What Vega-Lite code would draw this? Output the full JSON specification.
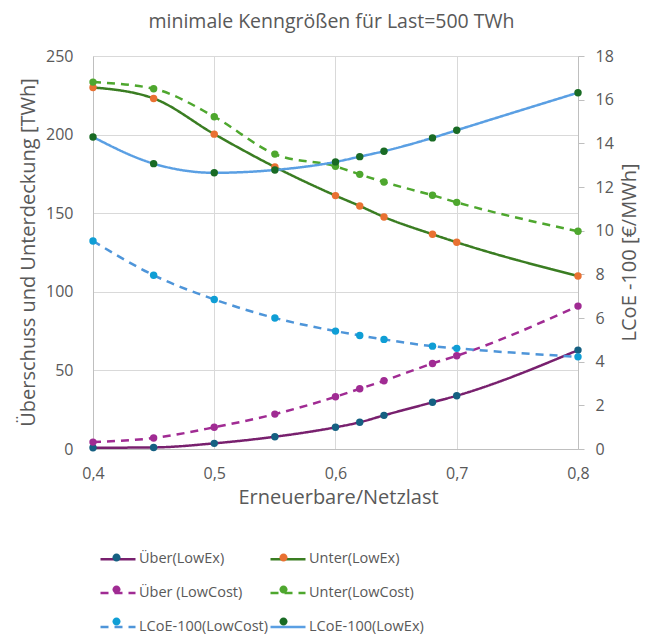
{
  "$schema": "https://vega.github.io/schema/vega-lite/v6.json",
  "width": 485,
  "height": 393,
  "autosize": "none",
  "padding": {"left": 93, "top": 56, "right": 72, "bottom": 188},
  "background": "white",
  "title": {
    "text": "minimale Kenngrößen für Last=500 TWh",
    "font": "Open Sans",
    "fontSize": 19.5,
    "fontWeight": "normal",
    "color": "#595959",
    "anchor": "middle",
    "frame": "group",
    "baseline": "alphabetic",
    "offset": 1,
    "dx": -4
  },
  "datasets": {
    "twh": [
      {"x": 0.4, "series": "Über(LowEx)", "v": 0.8},
      {"x": 0.45, "series": "Über(LowEx)", "v": 1.0},
      {"x": 0.5, "series": "Über(LowEx)", "v": 3.6},
      {"x": 0.55, "series": "Über(LowEx)", "v": 7.8},
      {"x": 0.6, "series": "Über(LowEx)", "v": 13.8},
      {"x": 0.62, "series": "Über(LowEx)", "v": 17.0},
      {"x": 0.64, "series": "Über(LowEx)", "v": 21.4},
      {"x": 0.68, "series": "Über(LowEx)", "v": 29.7},
      {"x": 0.7, "series": "Über(LowEx)", "v": 33.9},
      {"x": 0.8, "series": "Über(LowEx)", "v": 62.9},
      {"x": 0.4, "series": "Unter(LowEx)", "v": 230},
      {"x": 0.45, "series": "Unter(LowEx)", "v": 223},
      {"x": 0.5, "series": "Unter(LowEx)", "v": 200.3},
      {"x": 0.55, "series": "Unter(LowEx)", "v": 179.4},
      {"x": 0.6, "series": "Unter(LowEx)", "v": 161.2},
      {"x": 0.62, "series": "Unter(LowEx)", "v": 154.6},
      {"x": 0.64, "series": "Unter(LowEx)", "v": 147.6},
      {"x": 0.68, "series": "Unter(LowEx)", "v": 136.6},
      {"x": 0.7, "series": "Unter(LowEx)", "v": 131.5},
      {"x": 0.8, "series": "Unter(LowEx)", "v": 110},
      {"x": 0.4, "series": "Über (LowCost)", "v": 4.4},
      {"x": 0.45, "series": "Über (LowCost)", "v": 7.0},
      {"x": 0.5, "series": "Über (LowCost)", "v": 13.8},
      {"x": 0.55, "series": "Über (LowCost)", "v": 22.2},
      {"x": 0.6, "series": "Über (LowCost)", "v": 33.2},
      {"x": 0.62, "series": "Über (LowCost)", "v": 38.3},
      {"x": 0.64, "series": "Über (LowCost)", "v": 43.4},
      {"x": 0.68, "series": "Über (LowCost)", "v": 54.4},
      {"x": 0.7, "series": "Über (LowCost)", "v": 59.3},
      {"x": 0.8, "series": "Über (LowCost)", "v": 90.9},
      {"x": 0.4, "series": "Unter(LowCost)", "v": 233.4},
      {"x": 0.45, "series": "Unter(LowCost)", "v": 229.2},
      {"x": 0.5, "series": "Unter(LowCost)", "v": 211.4},
      {"x": 0.55, "series": "Unter(LowCost)", "v": 187.6},
      {"x": 0.6, "series": "Unter(LowCost)", "v": 179.8},
      {"x": 0.62, "series": "Unter(LowCost)", "v": 174.7},
      {"x": 0.64, "series": "Unter(LowCost)", "v": 169.8},
      {"x": 0.68, "series": "Unter(LowCost)", "v": 161.4},
      {"x": 0.7, "series": "Unter(LowCost)", "v": 156.9},
      {"x": 0.8, "series": "Unter(LowCost)", "v": 138.5}
    ],
    "lcoe": [
      {"x": 0.4, "series": "LCoE-100(LowCost)", "v": 9.53},
      {"x": 0.45, "series": "LCoE-100(LowCost)", "v": 7.96},
      {"x": 0.5, "series": "LCoE-100(LowCost)", "v": 6.85},
      {"x": 0.55, "series": "LCoE-100(LowCost)", "v": 6.0},
      {"x": 0.6, "series": "LCoE-100(LowCost)", "v": 5.4},
      {"x": 0.62, "series": "LCoE-100(LowCost)", "v": 5.2},
      {"x": 0.64, "series": "LCoE-100(LowCost)", "v": 5.02},
      {"x": 0.68, "series": "LCoE-100(LowCost)", "v": 4.71},
      {"x": 0.7, "series": "LCoE-100(LowCost)", "v": 4.61},
      {"x": 0.8, "series": "LCoE-100(LowCost)", "v": 4.22},
      {"x": 0.4, "series": "LCoE-100(LowEx)", "v": 14.29},
      {"x": 0.45, "series": "LCoE-100(LowEx)", "v": 13.07},
      {"x": 0.5, "series": "LCoE-100(LowEx)", "v": 12.65},
      {"x": 0.55, "series": "LCoE-100(LowEx)", "v": 12.78},
      {"x": 0.6, "series": "LCoE-100(LowEx)", "v": 13.15},
      {"x": 0.62, "series": "LCoE-100(LowEx)", "v": 13.39},
      {"x": 0.64, "series": "LCoE-100(LowEx)", "v": 13.64},
      {"x": 0.68, "series": "LCoE-100(LowEx)", "v": 14.25},
      {"x": 0.7, "series": "LCoE-100(LowEx)", "v": 14.6},
      {"x": 0.8, "series": "LCoE-100(LowEx)", "v": 16.32}
    ]
  },
  "encoding": {
    "x": {
      "field": "x",
      "type": "quantitative",
      "scale": {"domain": [0.4, 0.8], "nice": false, "zero": false},
      "axis": {
        "values": [0.4, 0.5, 0.6, 0.7, 0.8],
        "labelExpr": "replace(format(datum.value, '.1f'), '.', ',')",
        "title": "Erneuerbare/Netzlast",
        "grid": true,
        "gridColor": "#d9d9d9",
        "ticks": false,
        "tickSize": 0,
        "domainColor": "#bfbfbf",
        "labelFont": "Open Sans",
        "labelFontSize": 16,
        "labelColor": "#595959",
        "labelPadding": 16,
        "labelFlush": false,
        "titleFont": "Open Sans",
        "titleFontSize": 20,
        "titleFontWeight": "normal",
        "titleColor": "#595959",
        "titleX": 245,
        "titleY": 48,
        "titleBaseline": "middle",
        "titleAlign": "center"
      }
    },
    "stroke": {
      "field": "series",
      "type": "nominal",
      "scale": {
        "domain": ["Über(LowEx)", "Unter(LowEx)", "Über (LowCost)", "Unter(LowCost)", "LCoE-100(LowCost)", "LCoE-100(LowEx)"],
        "range": ["#78206E", "#3A7D22", "#A02B93", "#4EA72E", "#4E95D9", "#5A9FE3"]
      },
      "legend": {
        "orient": "none",
        "direction": "horizontal",
        "legendX": 6,
        "legendY": 484,
        "columns": 2,
        "title": null,
        "symbolType": "stroke",
        "symbolSize": 1225,
        "symbolStrokeWidth": 2.5,
        "labelFont": "Open Sans",
        "labelFontSize": 14.5,
        "labelColor": "#595959",
        "labelOffset": 2,
        "labelLimit": 0,
        "rowPadding": 8,
        "columnPadding": -13,
        "padding": 0,
        "symbolOffset": 0,
        "zindex": 0
      }
    },
    "strokeDash": {
      "field": "series",
      "type": "nominal",
      "scale": {
        "domain": ["Über(LowEx)", "Unter(LowEx)", "Über (LowCost)", "Unter(LowCost)", "LCoE-100(LowCost)", "LCoE-100(LowEx)"],
        "range": [[1, 0], [1, 0], [8, 6], [8, 6], [8, 6], [1, 0]]
      }
    },
    "strokeWidth": {
      "field": "series",
      "type": "nominal",
      "scale": {
        "domain": ["Über(LowEx)", "Unter(LowEx)", "Über (LowCost)", "Unter(LowCost)", "LCoE-100(LowCost)", "LCoE-100(LowEx)"],
        "range": [2.5, 2.5, 2.5, 3.5, 2.5, 2.5]
      },
      "legend": null
    },
    "fill": {
      "field": "series",
      "type": "nominal",
      "sort": ["Über(LowEx)", "Unter(LowEx)", "Über (LowCost)", "Unter(LowCost)", "LCoE-100(LowCost)", "LCoE-100(LowEx)"],
      "scale": {
        "range": ["#156082", "#E97132", "#A02B93", "#4EA72E", "#0F9ED5", "#196B24"]
      },
      "legend": {
        "orient": "none",
        "direction": "horizontal",
        "legendX": 6,
        "legendY": 484,
        "columns": 2,
        "title": null,
        "symbolType": "M-0.23,0A0.23,0.23,0,1,1,0.23,0A0.23,0.23,0,1,1,-0.23,0Z",
        "symbolSize": 1225,
        "symbolStrokeWidth": 0,
        "symbolOpacity": 1,
        "labelFont": "Open Sans",
        "labelFontSize": 14.5,
        "labelColor": "#595959",
        "labelOpacity": 0,
        "labelOffset": 2,
        "labelLimit": 0,
        "rowPadding": 8,
        "columnPadding": -13,
        "padding": 0,
        "symbolOffset": 0,
        "zindex": 1
      }
    }
  },
  "layer": [
    {
      "data": {"name": "twh"},
      "encoding": {
        "y": {
          "field": "v",
          "type": "quantitative",
          "scale": {"domain": [0, 250], "nice": false},
          "axis": {
            "orient": "left",
            "values": [0, 50, 100, 150, 200, 250],
            "title": "Überschuss und Unterdeckung [TWh]",
            "grid": true,
            "gridColor": "#d9d9d9",
            "ticks": false,
            "tickSize": 0,
            "domainColor": "#bfbfbf",
            "labelFont": "Open Sans",
            "labelFontSize": 16,
            "labelColor": "#595959",
            "labelPadding": 20,
            "titleFont": "Open Sans",
            "titleFontSize": 20,
            "titleFontWeight": "normal",
            "titleColor": "#595959",
            "titleAngle": 270,
            "titleX": -65,
            "titleY": 196,
            "titleBaseline": "middle",
            "titleAlign": "center"
          }
        }
      },
      "layer": [
        {
          "mark": {"type": "line", "interpolate": "monotone"},
          "encoding": {"fill": {"value": null}}
        },
        {
          "mark": {"type": "point", "filled": true, "size": 55, "opacity": 1, "strokeWidth": 0},
          "encoding": {"stroke": {"value": null}, "strokeDash": {"value": null}, "strokeWidth": {"value": 0}}
        }
      ]
    },
    {
      "data": {"name": "lcoe"},
      "encoding": {
        "y": {
          "field": "v",
          "type": "quantitative",
          "scale": {"domain": [0, 18], "nice": false},
          "axis": {
            "orient": "right",
            "values": [0, 2, 4, 6, 8, 10, 12, 14, 16, 18],
            "title": "LCoE -100 [€/MWh]",
            "grid": false,
            "ticks": true,
            "tickSize": 6,
            "tickColor": "#bfbfbf",
            "domainColor": "#bfbfbf",
            "labelFont": "Open Sans",
            "labelFontSize": 16,
            "labelColor": "#595959",
            "labelPadding": 11,
            "titleFont": "Open Sans",
            "titleFontSize": 20,
            "titleFontWeight": "normal",
            "titleColor": "#595959",
            "titleAngle": 270,
            "titleX": 51,
            "titleY": 196,
            "titleBaseline": "middle",
            "titleAlign": "center"
          }
        }
      },
      "layer": [
        {
          "mark": {"type": "line", "interpolate": "monotone"},
          "encoding": {"fill": {"value": null}}
        },
        {
          "mark": {"type": "point", "filled": true, "size": 55, "opacity": 1, "strokeWidth": 0},
          "encoding": {"stroke": {"value": null}, "strokeDash": {"value": null}, "strokeWidth": {"value": 0}}
        }
      ]
    }
  ],
  "resolve": {"scale": {"y": "independent"}},
  "config": {
    "view": {"stroke": null},
    "font": "Open Sans"
  }
}
